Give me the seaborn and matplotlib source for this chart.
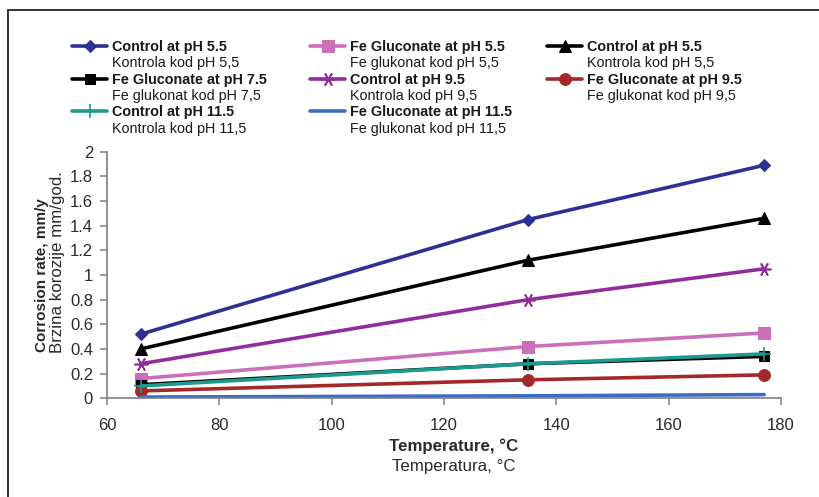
import matplotlib
matplotlib.use("Agg")
import matplotlib.pyplot as plt
from matplotlib.lines import Line2D
from matplotlib.ticker import FuncFormatter
import seaborn as sns
import pandas as pd

# ---- data ----
temperature = [66, 135, 177]
control_55_a = [0.52, 1.45, 1.89]
fe_gluc_55 = [0.16, 0.42, 0.53]
control_55_b = [0.40, 1.12, 1.46]
fe_gluc_75 = [0.11, 0.28, 0.34]
control_95 = [0.28, 0.80, 1.05]
fe_gluc_95 = [0.06, 0.15, 0.19]
control_115 = [0.10, 0.28, 0.36]
fe_gluc_115 = [0.01, 0.02, 0.03]

labels_en = ["Control at pH 5.5", "Fe Gluconate at pH 5.5", "Control at pH 5.5 ",
             "Fe Gluconate at pH 7.5", "Control at pH 9.5", "Fe Gluconate at pH 9.5",
             "Control at pH 11.5", "Fe Gluconate at pH 11.5"]
labels_local = ["Kontrola kod pH 5,5", "Fe glukonat kod pH 5,5", "Kontrola kod pH 5,5",
                "Fe glukonat kod pH 7,5", "Kontrola kod pH 9,5", "Fe glukonat kod pH 9,5",
                "Kontrola kod pH 11,5", "Fe glukonat kod pH 11,5"]
series_values = [control_55_a, fe_gluc_55, control_55_b, fe_gluc_75,
                 control_95, fe_gluc_95, control_115, fe_gluc_115]
x_ticks = [60, 80, 100, 120, 140, 160, 180]
y_ticks = [0, 0.2, 0.4, 0.6, 0.8, 1, 1.2, 1.4, 1.6, 1.8, 2]

colors = ["#2e3192", "#cc6fba", "#000000", "#000000", "#922b9c", "#a3282a", "#1c9a8e", "#3d6cc4"]
markers = ["D", "s", "^", "s", (6, 2, 90), "o", "+", None]
msizes = [6.5, 9, 8, 7.5, 10, 8.5, 10, 0]

rows = []
for lab, vals in zip(labels_en, series_values):
    for t, v in zip(temperature, vals):
        rows.append({"series": lab, "temp": t, "rate": v})
df = pd.DataFrame(rows)

sns.set_style("white")
plt.rcParams["font.family"] = ["Liberation Sans", "DejaVu Sans"]

fig = plt.figure(figsize=(8.2, 4.97), dpi=100)
W, H = 820, 497
ax = fig.add_axes([107 / W, 1 - 398.3 / H, (781 - 107) / W, (398.3 - 151.7) / H])

for lab, col, mk, ms in zip(labels_en, colors, markers, msizes):
    sub = df[df["series"] == lab]
    kw = dict(marker=mk, markersize=ms) if mk is not None else {}
    if mk == "+" or (isinstance(mk, tuple)):
        kw["markeredgewidth"] = 1.2
    sns.lineplot(data=sub, x="temp", y="rate", ax=ax, color=col, linewidth=2.6,
                 markeredgecolor=col, markerfacecolor=col, legend=False, **kw)

ax.set_xlim(60, 180)
ax.set_ylim(0, 2)
ax.set_xticks(x_ticks)
ax.set_yticks(y_ticks)
ax.yaxis.set_major_formatter(FuncFormatter(lambda v, p: "%g" % v))
ax.set_xlabel("")
ax.set_ylabel("")
for s in ["top", "right"]:
    ax.spines[s].set_visible(False)
for s in ["left", "bottom"]:
    ax.spines[s].set_color("#808080")
    ax.spines[s].set_linewidth(1.2)
ax.tick_params(axis="both", which="major", direction="out", length=5, width=1.1,
               color="#808080", labelsize=12, labelcolor="#2a2a2a", pad=5)
ax.tick_params(axis="x", pad=9)
ax.tick_params(axis="both", bottom=True, left=True)

# axis titles
fig.text(454 / W, 1 - 446 / H, "Temperature, °C", ha="center", va="center",
         fontsize=12.2, fontweight="bold", color="#2a2a2a")
fig.text(454 / W, 1 - 467 / H, "Temperatura, °C", ha="center", va="center",
         fontsize=12.2, color="#2a2a2a")
fig.text(42 / W, 1 - 275 / H, "Corrosion rate, mm/y", ha="center", va="center",
         rotation=90, fontsize=11, fontweight="bold", color="#2a2a2a")
fig.text(58 / W, 1 - 262 / H, "Brzina korozije mm/god.", ha="center", va="center",
         rotation=90, fontsize=12.2, color="#2a2a2a")

# legend: three columns
lines = ax.get_lines()
blank = Line2D([], [], linestyle="none")
cols_idx = [[0, 3, 6], [1, 4, 7], [2, 5]]
col_x = [72, 310, 547]
for ci, idxs in enumerate(cols_idx):
    handles, texts, bold = [], [], []
    for i in idxs:
        handles += [lines[i], blank]
        texts += [labels_en[i].strip(), labels_local[i]]
        bold += [True, False]
    leg = fig.legend(handles, texts, loc="upper left",
                     bbox_to_anchor=(col_x[ci] / W, 1 - 40 / H),
                     bbox_transform=fig.transFigure, frameon=False,
                     fontsize=10.4, handlelength=2.45, handletextpad=0.3,
                     borderpad=0, borderaxespad=0, labelspacing=0.16,
                     handleheight=0.7)
    for t, b in zip(leg.get_texts(), bold):
        t.set_color("#1a1a1a")
        if b:
            t.set_fontweight("bold")

# outer frame (top and left edges)
fig.add_artist(Line2D([8 / W, 1.0], [1 - 10 / H, 1 - 10 / H], transform=fig.transFigure,
                      color="#333333", linewidth=1.4))
fig.add_artist(Line2D([8 / W, 8 / W], [1 - 10 / H, 0], transform=fig.transFigure,
                      color="#333333", linewidth=1.4))

fig.savefig("out.png", dpi=100)
